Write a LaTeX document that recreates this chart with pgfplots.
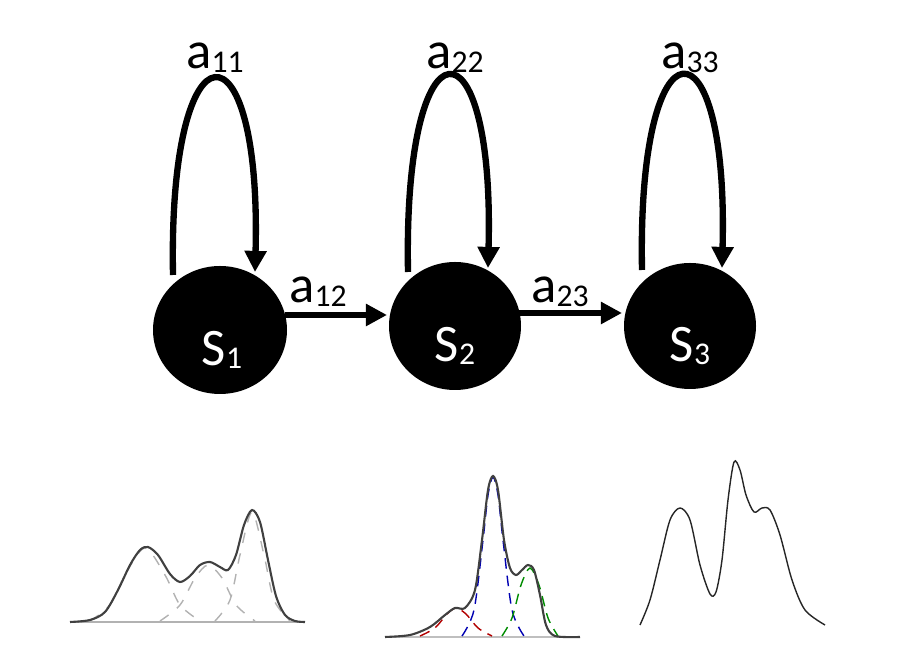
\documentclass[border=0pt]{standalone}
\usepackage{pgfplots}
\pgfplotsset{compat=1.18}
\usepackage{fontspec}
\setmainfont{Carlito}
\usetikzlibrary{arrows.meta}
\newcommand{\sub}[1]{\raisebox{-0.15ex}{\fontsize{9}{10}\selectfont #1}}
\begin{document}
\begin{tikzpicture}
\begin{axis}[width=9.17cm,height=6.67cm,scale only axis,hide axis,
  xmin=0,xmax=917,ymin=0,ymax=667,y dir=reverse,clip=false]
\path[draw=none] (axis cs:0,0) rectangle (axis cs:917,667);
% states
\fill[black] (axis cs:220,330) ellipse [x radius=0.67cm,y radius=0.64cm];
\fill[black] (axis cs:455,326) ellipse [x radius=0.66cm,y radius=0.64cm];
\fill[black] (axis cs:690,326) ellipse [x radius=0.66cm,y radius=0.63cm];
\tikzset{lab/.style={font=\fontsize{15}{17}\selectfont,inner sep=0pt}}
\node[white,lab] at (axis cs:222,350) {S\sub{1}};
\node[white,lab] at (axis cs:455,346) {S\sub{2}};
\node[white,lab] at (axis cs:690,346) {S\sub{3}};
% loops
\tikzset{arr/.style={line width=1.8pt,-{Triangle[length=6pt,width=6pt]}}}
\draw[arr] (axis cs:173,275) .. controls (axis cs:168,15) and (axis cs:262,15) .. (axis cs:255,272);
\draw[arr] (axis cs:408,272) .. controls (axis cs:403,12) and (axis cs:495,12) .. (axis cs:488,268);
\draw[arr] (axis cs:642,270) .. controls (axis cs:637,12) and (axis cs:729,12) .. (axis cs:722,268);
\draw[arr] (axis cs:285,315) -- (axis cs:387,315);
\draw[arr] (axis cs:518,313) -- (axis cs:622,313);
\node[lab] at (axis cs:215,58) {a\sub{11}};
\node[lab] at (axis cs:455,58) {a\sub{22}};
\node[lab] at (axis cs:690,58) {a\sub{33}};
\node[lab] at (axis cs:318,292) {a\sub{12}};
\node[lab] at (axis cs:560,292) {a\sub{23}};
% left mixture
\addplot[gray!60,thin] coordinates {(70,622)(305,622)};
\addplot[gray!60,dashed,thin,smooth] coordinates {(90,621)(110,605)(125,575)(145,548)(165,575)(180,605)(200,621)};
\addplot[gray!60,dashed,thin,smooth] coordinates {(160,621)(180,605)(195,578)(208,565)(222,578)(236,605)(255,621)};
\addplot[gray!60,dashed,thin,smooth] coordinates {(215,621)(230,600)(240,555)(252,512)(264,555)(274,600)(290,621)};
\addplot[black!75,semithick,smooth] coordinates {(70,622)(90,620)(105,612)(118,590)(130,565)(140,550)(148,547)(158,555)(170,574)(180,582)(190,576)(200,565)(210,562)(220,567)(228,570)(236,555)(244,525)(252,510)(260,522)(268,560)(276,596)(285,615)(295,621)(305,622)};
% middle mixture
\addplot[gray!50,thin] coordinates {(385,637)(580,637)};
\addplot[red!70!black,densely dashed,thin,smooth] coordinates {(420,636)(435,628)(447,614)(456,608)(466,614)(478,628)(492,636)};
\addplot[blue!70!black,densely dashed,thin,smooth] coordinates {(462,636)(474,610)(483,540)(488,495)(493,477)(498,495)(503,540)(512,610)(524,636)};
\addplot[green!55!black,densely dashed,thin,smooth] coordinates {(502,636)(512,618)(521,585)(530,568)(539,585)(548,618)(558,636)};
\addplot[black!75,semithick,smooth] coordinates {(385,637)(410,635)(430,627)(445,615)(455,608)(465,608)(475,590)(482,540)(488,490)(493,476)(498,490)(504,540)(510,568)(516,575)(522,570)(528,565)(534,570)(540,595)(546,625)(555,636)(580,637)};
% right density
\addplot[black!85,thin,smooth] coordinates {(640,625)(650,600)(660,560)(670,520)(680,508)(690,520)(700,565)(710,594)(716,592)(722,560)(728,500)(734,462)(740,470)(746,495)(754,512)(762,508)(770,510)(780,535)(792,580)(805,610)(825,625)};
\end{axis}
\end{tikzpicture}
\end{document}
